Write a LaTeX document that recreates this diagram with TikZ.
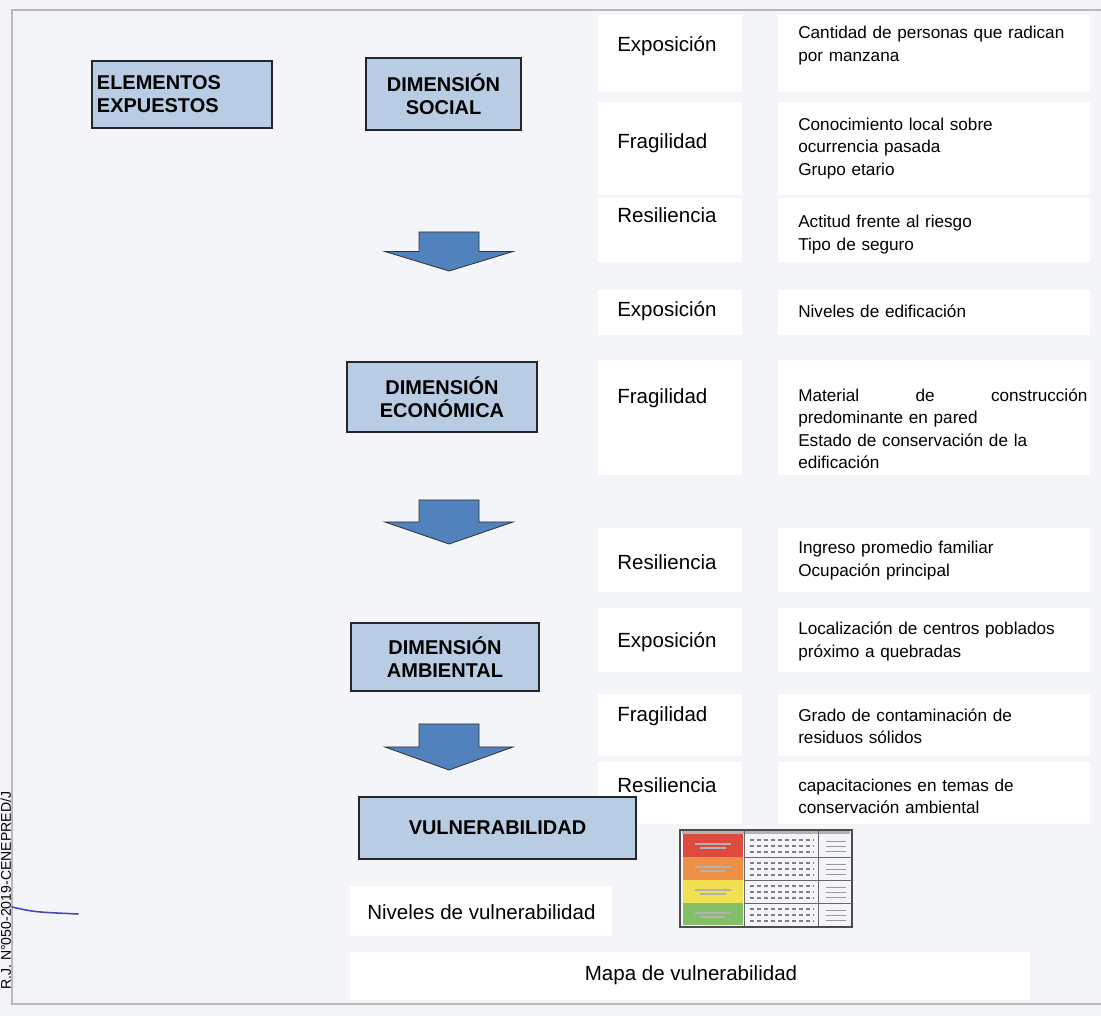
\documentclass[tikz,border=0pt]{standalone}
\usepackage{fontspec}
\setmainfont{Liberation Sans}
\usetikzlibrary{positioning}

\definecolor{cajaazul}{HTML}{B8CCE4}
\definecolor{flechaazul}{HTML}{5282BE}
\definecolor{fondo}{HTML}{F3F5F8}
\definecolor{rojo}{HTML}{DE4B3E}
\definecolor{naranja}{HTML}{EE8F45}
\definecolor{amarillo}{HTML}{F1E04F}
\definecolor{verde}{HTML}{82BF66}

% flecha de bloque hacia abajo: x del centro, y superior, alto
\newcommand{\flechabaja}[3]{%
  \draw[flecha] ({#1-30},#2) -- ({#1+30},#2) -- ({#1+30},{#2+#3/2}) -- ({#1+64},{#2+#3/2})
    -- (#1,{#2+#3}) -- ({#1-64},{#2+#3/2}) -- ({#1-30},{#2+#3/2}) -- cycle;}

\begin{document}
\begin{tikzpicture}[
            x=0.025cm, y=-0.025cm,
            caja/.style={draw=black!85, fill=cajaazul, line width=0.8pt, align=center,
                inner sep=0pt, font=\fontsize{14.2}{16.5}\selectfont\bfseries},
            etiq/.style={anchor=west, inner sep=0pt, font=\fontsize{14.6}{18}\selectfont},
            detalle/.style={anchor=west, inner sep=0pt, align=left, text width=7.225cm,
                font=\fontsize{12.2}{16}\selectfont},
            flecha/.style={draw=black!80, fill=flechaazul, line width=0.6pt, line join=miter},
            parche/.style={fill=white}
        ]
        \useasboundingbox (0,0) rectangle (1101,1016);
        \fill[fondo] (0,0) rectangle (1101,1016);

        % fondos blancos de las filas
        \foreach \ya/\yb in {15/92, 102/195, 198/262, 290/335, 360/475, 528/592, 608/672, 694/756, 762/824}{
            \fill[parche] (598,\ya) rectangle (742,\yb);
            \fill[parche] (778,\ya) rectangle (1090,\yb);
        }
        \fill[parche] (350,886) rectangle (612,936);
        \fill[parche] (350,952) rectangle (1030,1000);

        % marco
        \draw[gray!55, line width=1pt] (1101,10) -- (12,10) -- (12,1004) -- (1101,1004);
        \node[rotate=90, anchor=base west, inner sep=0pt, font=\fontsize{10}{12}\selectfont] (rj) at (11,990) {R.J. N°050-2019-CENEPRED/J};
        \draw[blue!45!gray, line width=1.1pt, line cap=round] (12,907) .. controls (34,912) .. (78,914);

        % columna de cajas
        \node[caja, align=left, text width=4.25cm, inner xsep=0.125cm, minimum height=1.675cm] (ee) at (182,94.5) {ELEMENTOS\\EXPUESTOS};
        \node[caja, minimum width=3.875cm, minimum height=1.8cm] (soc) at (443.5,94) {DIMENSIÓN\\SOCIAL};
        \node[caja, minimum width=4.75cm, minimum height=1.75cm] (eco) at (442,397) {DIMENSIÓN\\ECONÓMICA};
        \node[caja, minimum width=4.7cm, minimum height=1.7cm] (amb) at (445,657) {DIMENSIÓN\\AMBIENTAL};
        \node[caja, minimum width=6.925cm, minimum height=1.55cm] (vul) at (497.5,828) {VULNERABILIDAD};

        \flechabaja{449}{232}{39}
        \flechabaja{449}{500}{44}
        \flechabaja{449}{724}{46}

        % componentes
        \node[etiq] (e1) at (617,46) {Exposición};
        \node[etiq] (f1) at (617,143) {Fragilidad};
        \node[etiq] (r1) at (617,215) {Resiliencia};
        \node[etiq] (e2) at (617,311) {Exposición};
        \node[etiq] (f2) at (617,398) {Fragilidad};
        \node[etiq] (r2) at (617,562) {Resiliencia};
        \node[etiq] (e3) at (617,642) {Exposición};
        \node[etiq] (f3) at (617,716) {Fragilidad};
        \node[etiq] (r3) at (617,785) {Resiliencia};

        % indicadores
        \node[detalle] (d1) at (798,45.5) {Cantidad de personas que radican\\por manzana};
        \node[detalle] (d2) at (798,148.5) {Conocimiento local sobre\\ocurrencia pasada\\Grupo etario};
        \node[detalle] (d3) at (798,234.5) {Actitud frente al riesgo\\Tipo de seguro};
        \node[detalle] (d4) at (798,311) {Niveles de edificación};
        \node[detalle] (d5) at (798,429) {Material\hfill de\hfill construcción\\predominante en pared\\Estado de conservación de la\\edificación};
        \node[detalle] (d6) at (798,560.5) {Ingreso promedio familiar\\Ocupación principal};
        \node[detalle] (d7) at (798,641.5) {Localización de centros poblados\\próximo a quebradas};
        \node[detalle] (d8) at (798,726.5) {Grado de contaminación de\\residuos sólidos};
        \node[detalle] (d9) at (798,796.5) {capacitaciones en temas de\\conservación ambiental};

        % leyenda de niveles
        \node[etiq] (niv) at (367,912) {Niveles de vulnerabilidad};
        \draw[black!70, line width=0.8pt] (680,830) rectangle (852,927);
        \fill[gray!60] (682,831) rectangle (850,834);
        \fill[rojo] (683,834) rectangle (743,857);
        \fill[naranja] (683,857) rectangle (743,880);
        \fill[amarillo] (683,880) rectangle (743,903);
        \fill[verde] (683,903) rectangle (743,925);
        \draw[black!60] (744,831) -- (744,926) (818,831) -- (818,926);
        \foreach \yy in {857,880,903}
            \draw[black!60] (744,\yy) -- (852,\yy);
        \foreach \yb in {834,857,880,903}{
            \foreach \k in {6,12,18}{
                \draw[gray, line width=0.8pt, dash pattern=on 3pt off 2pt] (750,\yb+\k) -- (814,\yb+\k);
            }
            \foreach \k in {7,12,17}
                \draw[gray!80, line width=0.6pt] (826,\yb+\k) -- (846,\yb+\k);
            \draw[white!70!black, line width=1.1pt] (695,\yb+10) -- (731,\yb+10) (700,\yb+14) -- (726,\yb+14);
        }

        \node[etiq, anchor=center] (mapa) at (691,975) {Mapa de vulnerabilidad};
\end{tikzpicture}
\end{document}
